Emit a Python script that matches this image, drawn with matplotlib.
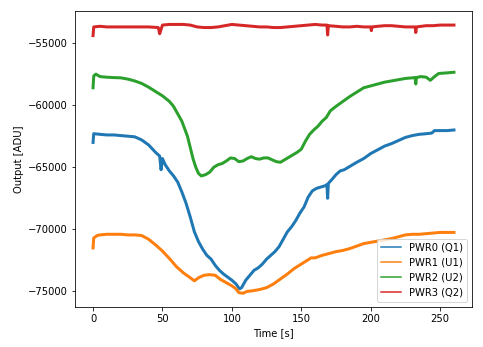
import numpy as np
import matplotlib
matplotlib.use('Agg')
import matplotlib.pyplot as plt

# PWR0 (Q1)
t0 = [0, 0.5, 5, 10, 15, 20, 25, 30, 35, 40, 45, 48, 49, 50, 52, 55, 58, 61, 64, 67,
      70, 73, 76, 79, 82, 85, 88, 91, 94, 97, 100, 103, 105.5, 107, 110, 113, 116, 119,
      122, 125, 128, 131, 134, 137, 140, 143, 146, 149, 152, 155, 158, 161, 164, 167,
      168.5, 169, 169.5, 172, 175, 178, 181, 184, 187, 190, 195, 200, 205, 210, 215,
      220, 225, 230, 235, 240, 244, 246, 250, 255, 260]
pwr0 = [-63000, -62300, -62350, -62400, -62400, -62450, -62500, -62550, -62800, -63200,
        -63800, -64100, -65200, -64300, -64800, -65300, -65700, -66200, -67000, -67900,
        -69000, -70200, -71000, -71600, -72100, -72400, -72900, -73300, -73600, -73850,
        -74100, -74400, -74800, -74700, -74100, -73700, -73300, -73100, -72800, -72400,
        -72100, -71800, -71400, -70800, -70200, -69800, -69300, -68700, -68200, -67400,
        -66900, -66700, -66600, -66500, -66400, -67500, -66300, -66000, -65600, -65300,
        -65200, -65000, -64800, -64600, -64300, -63900, -63600, -63300, -63100, -62850,
        -62600, -62450, -62350, -62300, -62250, -62050, -62050, -62050, -62000]

# PWR1 (U1)
t1 = [0, 0.5, 3, 5, 10, 15, 20, 25, 30, 35, 40, 45, 50, 55, 60, 65, 70, 73, 76, 80,
      84, 88, 92, 96, 100, 103, 105, 108, 111, 115, 120, 125, 130, 135, 140, 145, 150,
      155, 157, 160, 165, 170, 175, 180, 185, 190, 195, 200, 205, 210, 215, 220, 225,
      230, 235, 240, 245, 250, 255, 260]
pwr1 = [-71500, -70700, -70500, -70450, -70400, -70400, -70400, -70450, -70450, -70500,
        -70800, -71250, -71750, -72350, -73000, -73500, -73900, -74150, -73900, -73700,
        -73650, -73700, -74050, -74300, -74550, -74800, -75100, -75150, -75000, -74950,
        -74850, -74700, -74400, -74000, -73600, -73150, -72800, -72450, -72300, -72300,
        -72100, -71950, -71800, -71700, -71550, -71350, -71150, -71050, -70950, -70850,
        -70750, -70600, -70450, -70400, -70400, -70350, -70300, -70250, -70250, -70250]

# PWR2 (U2)
t2 = [0, 0.5, 2, 5, 10, 15, 20, 25, 30, 35, 40, 45, 50, 55, 58, 61, 64, 66, 68, 70,
      72, 74, 76, 78, 81, 84, 87, 90, 93, 96, 99, 102, 105, 108, 111, 114, 117, 120,
      123, 126, 129, 132, 135, 138, 141, 144, 147, 150, 153, 156, 159, 162, 165, 168,
      171, 175, 180, 185, 190, 195, 200, 205, 210, 215, 220, 225, 230, 232, 232.5, 233,
      236, 240, 243, 246, 249, 255, 260]
pwr2 = [-58600, -57650, -57500, -57700, -57750, -57780, -57800, -57900, -58050, -58250,
        -58550, -58900, -59250, -59700, -60100, -60700, -61300, -61900, -62500, -63400,
        -64300, -65000, -65500, -65700, -65600, -65400, -65000, -64800, -64700, -64500,
        -64250, -64300, -64550, -64500, -64300, -64150, -64300, -64350, -64250, -64250,
        -64400, -64550, -64600, -64400, -64200, -64000, -63800, -63550, -62900, -62350,
        -62000, -61700, -61300, -61000, -60450, -60100, -59700, -59300, -58950, -58600,
        -58450, -58300, -58150, -58050, -57950, -57850, -57800, -57780, -58300, -57780,
        -57700, -57750, -58000, -57700, -57450, -57400, -57350]

# PWR3 (Q2)
t3 = [0, 0.5, 5, 10, 20, 30, 40, 47, 48, 49, 50, 55, 60, 65, 70, 75, 80, 85, 90, 95,
      100, 105, 110, 115, 120, 125, 130, 135, 140, 145, 150, 155, 160, 165, 168.5, 169,
      169.5, 175, 180, 185, 190, 195, 200, 200.5, 201, 205, 210, 215, 220, 225, 232,
      232.5, 233, 240, 245, 250, 255, 260]
pwr3 = [-54400, -53700, -53650, -53700, -53700, -53700, -53700, -53750, -54250, -53900,
        -53550, -53500, -53500, -53500, -53550, -53700, -53750, -53750, -53700, -53600,
        -53500, -53550, -53600, -53650, -53700, -53700, -53750, -53750, -53700, -53650,
        -53600, -53550, -53500, -53550, -53550, -54350, -53600, -53650, -53700, -53700,
        -53650, -53700, -53700, -54000, -53700, -53650, -53600, -53600, -53650, -53700,
        -53700, -54150, -53700, -53600, -53600, -53550, -53550, -53550]

labels = ['PWR0 (Q1)', 'PWR1 (U1)', 'PWR2 (U2)', 'PWR3 (Q2)']

fig = plt.figure(figsize=(483 / 72, 347 / 72), dpi=72)
ax = fig.add_axes([75 / 483, 1 - 306.7 / 347, (472 - 75) / 483, (306.7 - 11) / 347])

for t, v, lab in zip([t0, t1, t2, t3], [pwr0, pwr1, pwr2, pwr3], labels):
    ax.plot(t, v, lw=3, label=lab)

ax.set_xlabel('Time [s]')
ax.set_ylabel('Output [ADU]')
ax.set_xticks([0, 50, 100, 150, 200, 250])
ax.set_yticks([-75000, -70000, -65000, -60000, -55000])
leg = ax.legend(loc='lower right')
for line in leg.get_lines():
    line.set_linewidth(1.5)

fig.savefig('out.png', dpi=72)
